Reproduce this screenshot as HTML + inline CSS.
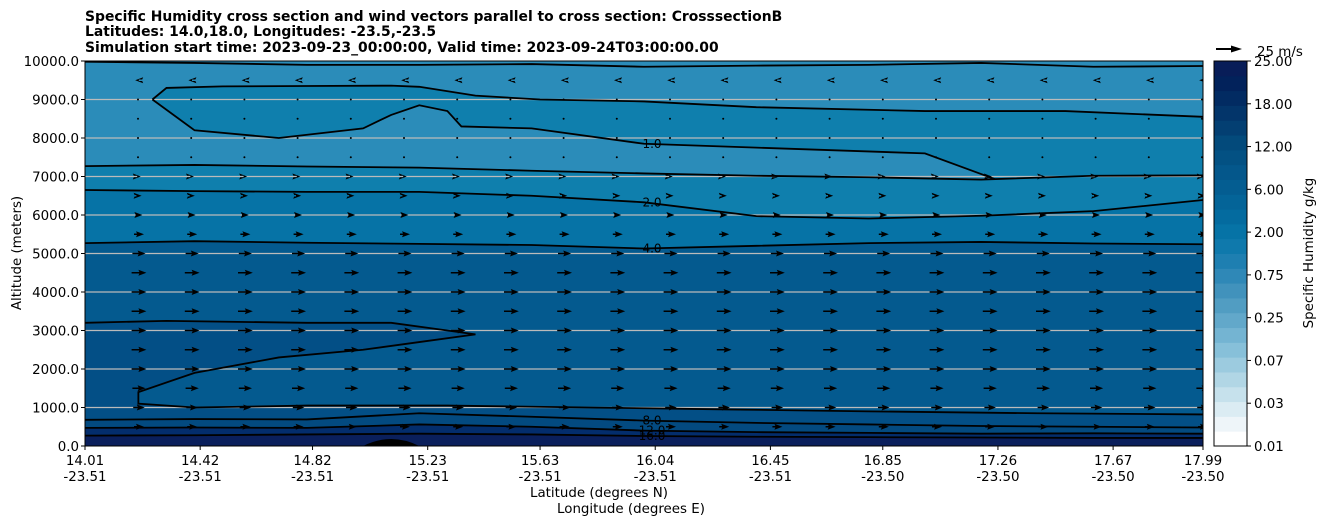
<!DOCTYPE html>
<html><head><meta charset="utf-8"><style>
body{margin:0;background:#fff;width:1326px;height:526px;overflow:hidden;font-family:"Liberation Sans","DejaVu Sans",sans-serif}
svg text{font-family:"DejaVu Sans","Liberation Sans",sans-serif}
</style></head><body>
<svg id="s" width="1326" height="526" xmlns="http://www.w3.org/2000/svg">
<g font-weight="bold" font-size="13.9">
<text x="85" y="21">Specific Humidity cross section and wind vectors parallel to cross section: CrosssectionB</text>
<text x="85" y="36">Latitudes: 14.0,18.0, Longitudes: -23.5,-23.5</text>
<text x="85" y="52">Simulation start time: 2023-09-23_00:00:00, Valid time: 2023-09-24T03:00:00.00</text>
</g>
<defs><clipPath id="pc"><rect x="85" y="61" width="1118" height="385"/></clipPath></defs>
<g id="plot" clip-path="url(#pc)"></g>
<g id="axes"></g>
<g id="cbar"></g>
<text x="1313" y="253" transform="rotate(-90 1313 253)" font-size="13.4" text-anchor="middle">Specific Humidity g/kg</text>
<g><line x1="1216" y1="49" x2="1234" y2="49" stroke="#000" stroke-width="2"/><path d="M1231,45.5 L1242,49 L1231,52.5 Z"/><text x="1257" y="56" font-size="13.4">25 m/s</text></g>
<text x="599" y="497" font-size="13.4" text-anchor="middle">Latitude (degrees N)</text>
<text x="631" y="513" font-size="13.4" text-anchor="middle">Longitude (degrees E)</text>
<text x="21" y="253" transform="rotate(-90 21 253)" font-size="13.4" text-anchor="middle">Altitude (meters)</text>
</svg>
<script>
const latTicks=[14.01,14.42,14.82,15.23,15.63,16.04,16.45,16.85,17.26,17.67,17.99];
const lonTicks=["-23.51","-23.51","-23.51","-23.51","-23.51","-23.51","-23.51","-23.50","-23.50","-23.50","-23.50"];
const altTicks=[0,1000,2000,3000,4000,5000,6000,7000,8000,9000,10000];
const cbLabels=["0.01","0.03","0.07","0.25","0.75","2.00","6.00","12.00","18.00","25.00"];
const cbColors=["#fff","#eef5f9","#dbecf3","#c6e1ec","#b1d6e5","#9ccbdf","#87c0d9","#74b4d2","#62a8ca","#519dc2","#4192bc","#2f88b7","#1e7fb1","#0f79ac","#0673a6","#046b9f","#046498","#045d91","#04578b","#035183","#034a7b","#033f72","#03356a","#022b62","#02225b","#081d58"];
const lineLats=[14.01,14.4,14.8,15.2,15.6,16.0,16.4,16.8,17.2,17.6,17.99];
const q16=[270,280,300,320,300,260,240,230,220,210,210];
const q12=[470,480,470,560,500,400,360,340,320,330,320];
const q8=[680,700,690,850,760,660,600,560,520,500,480];
const q4=[5270,5320,5280,5250,5220,5130,5200,5270,5300,5260,5240];
const q2=[6650,6620,6600,6600,6500,6330,5970,5910,5980,6100,6390];
const q1=[7270,7300,7260,7230,7150,7080,7020,6980,6920,7020,7030];
const q05=[9980,9950,9900,9900,9920,9850,9880,9900,9950,9850,9870];
const upperLat=[14.25,14.3,14.5,14.8,15.1,15.2,15.4,15.63,16.0,16.4,17.0,17.5,17.99];
const upperAlt=[9000,9300,9340,9350,9360,9330,9100,9000,8950,8800,8700,8700,8550];
const lowerLat=[14.25,14.4,14.7,15.0,15.1,15.2,15.3,15.35,15.6,16.0,16.4,17.0,17.25];
const lowerAlt=[9000,8200,8000,8250,8600,8850,8700,8300,8250,7850,7750,7600,6930];
const q6Lat=[14.01,14.3,14.8,15.1,15.3,15.4,15.2,15.0,14.7,14.4,14.2,14.2,14.4,14.8,15.3,15.8,16.3,16.8,17.4,17.99];
const q6Alt=[3200,3250,3200,3200,3000,2900,2700,2500,2300,1900,1400,1100,1000,1050,1050,1000,950,900,850,820];
const fillColors=["#2b8cb9","#0f7fad","#0673a6","#045a8f","#034a80","#032d6c","#0a1f5c"];
const vecRows=[500,1000,1500,2000,2500,3000,3500,4000,4500,5000,5500,6000,6500,7000,7500,8000,8500,9000,9500];
const vecU=[5,6,7,8,8,8,8,8,8,7,5,3,2,1,0.5,0,0,0,-1];
const NS="http://www.w3.org/2000/svg";
const X0=85,X1=1203,Y0=446,Y1=61;
const xs=l=>X0+(l-14.01)/(17.99-14.01)*(X1-X0);
const ys=a=>Y0-a/10000*(Y0-Y1);
const plot=document.getElementById('plot'),axes=document.getElementById('axes'),cb=document.getElementById('cbar');
function mk(t,a,p){const e=document.createElementNS(NS,t);for(const k in a)e.setAttribute(k,a[k]);(p||plot).appendChild(e);return e;}
function poly(la,al){let d='';la.forEach((l,j)=>d+=(j?' L':'M')+xs(l)+','+ys(al[j]));return d;}
function polyRev(la,al){let d='';for(let j=la.length-1;j>=0;j--)d+=' L'+xs(la[j])+','+ys(al[j]);return d;}
let bg=mk('rect',{x:X0,y:Y1,width:X1-X0,height:Y0-Y1,fill:fillColors[0]});


let lp=mk('path',{d:poly(upperLat,upperAlt)+' L'+xs(17.99)+','+ys(7030)+polyRev(lowerLat,lowerAlt)+' Z',fill:'#0f7fad'});


const levels=[q1,q2,q4,q8,q12,q16];
levels.forEach((q,i)=>{
  let d='M'+X0+','+Y0;lineLats.forEach((l,j)=>d+=' L'+xs(l)+','+ys(q[j]));d+=' L'+X1+','+Y0+' Z';
  const p=mk('path',{d:d,fill:fillColors[i+1]});
  
  
  if(i==2){const p6=mk('path',{d:poly(q6Lat,q6Alt)+' L'+X1+','+Y0+' L'+X0+','+Y0+' Z',fill:'#034f86'});
   
   }
});
let hill=mk('path',{d:`M${xs(15.0)},${Y0} Q${xs(15.1)},${Y0-14} ${xs(15.2)},${Y0} Z`,fill:'#000'});


altTicks.forEach(a=>{if(a>0&&a<10000){const g=mk('line',{x1:X0,x2:X1,y1:ys(a),y2:ys(a),stroke:'#bbb','stroke-width':1.2});

}});
[q05,q1,q2,q4,q8,q12,q16].forEach(q=>{
  const p=mk('path',{d:poly(lineLats,q),fill:'none',stroke:'#000','stroke-width':1.8});
  
  
});
[[q6Lat,q6Alt],[upperLat,upperAlt],[lowerLat,lowerAlt]].forEach(([la,al])=>{
 const p=mk('path',{d:poly(la,al),fill:'none',stroke:'#000','stroke-width':1.8});
 
 
});
const lbls=[["2.0",q2],["4.0",q4],["8.0",q8],["12.0",q12],["16.0",q16]];
lbls.forEach(([t,q])=>{const tx=mk('text',{x:xs(16.0)+8,y:ys(q[5])+4,'font-size':12,'text-anchor':'middle'});tx.textContent=t;

});
let t1=mk('text',{x:xs(16.0)+8,y:ys(7850)+4,'font-size':12,'text-anchor':'middle'});t1.textContent='1.0';


for(let c=0;c<21;c++){const x=138+c*53.2;if(x>X1)break;
 vecRows.forEach((a,r)=>{const u=vecU[r]*1.6;const y=ys(a);
  let e;
  if(Math.abs(u)<1){e=mk('circle',{cx:x,cy:y,r:1,fill:'#000'});}
  else{const s=Math.sign(u),L=Math.abs(u);e=mk('path',{d:`M${x-s*L/2},${y-0.7} L${x+s*(L/2-5)},${y-0.7} L${x+s*(L/2-6)},${y-3} L${x+s*L/2+s*2},${y} L${x+s*(L/2-6)},${y+3} L${x+s*(L/2-5)},${y+0.7} L${x-s*L/2},${y+0.7}Z`,fill:'#000'});}
  
  
 });}
mk('rect',{x:X0,y:Y1,width:X1-X0,height:Y0-Y1,fill:'none',stroke:'#000','stroke-width':1},axes);
latTicks.forEach((l,i)=>{const x=xs(l);mk('line',{x1:x,x2:x,y1:Y0,y2:Y0+4,stroke:'#000'},axes);
 const t=mk('text',{x:x,y:Y0+19,'font-size':13.4,'text-anchor':'middle'},axes);t.textContent=l.toFixed(2);
 
 
 const t2=mk('text',{x:x,y:Y0+35,'font-size':13.4,'text-anchor':'middle'},axes);t2.textContent=lonTicks[i];
 
 });
altTicks.forEach(a=>{const y=ys(a);mk('line',{x1:X0-4,x2:X0,y1:y,y2:y,stroke:'#000'},axes);
 const t=mk('text',{x:X0-6,y:y+5,'font-size':13.4,'text-anchor':'end'},axes);t.textContent=a.toFixed(1);
 
 });
const CX=1214,CW=33,n=cbColors.length,h=(Y0-Y1)/n;
cbColors.forEach((c,i)=>{const r=mk('rect',{x:CX,y:Y0-(i+1)*h,width:CW,height:h+0.5,fill:c},cb);
 
 });
mk('rect',{x:CX,y:Y1,width:CW,height:Y0-Y1,fill:'none',stroke:'#000'},cb);
cbLabels.forEach((t,i)=>{const y=Y0-i*(Y0-Y1)/(cbLabels.length-1);mk('line',{x1:CX+CW,x2:CX+CW+4,y1:y,y2:y,stroke:'#000'},cb);
 const tx=mk('text',{x:CX+CW+7,y:y+5,'font-size':13.4},cb);tx.textContent=t;
 
 });
</script>
</body></html>
